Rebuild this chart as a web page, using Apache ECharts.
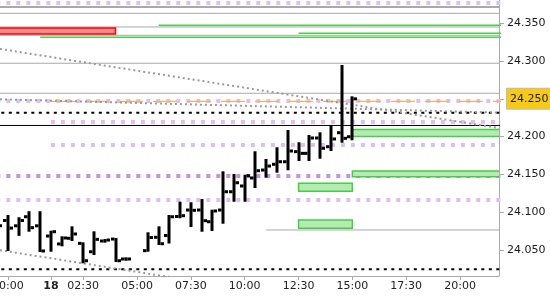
<!DOCTYPE html>
<html><head><meta charset="utf-8">
<script src="https://cdn.jsdelivr.net/npm/echarts@6/dist/echarts.min.js"></script>
<style>html,body{margin:0;padding:0;background:#fff}#c{width:550px;height:300px}</style>
</head><body><div id="c"></div>
<script>
// ---- data ----
const barSlot = [0,1,2,3,4,5,6,7,8,9,10,11,12,14,15,16,17,18,19,20,21,22,23,24,25,26,27,28,29,30,31,32,33];
const open  = [24.087,24.089,24.082,24.094,24.082,24.0685,24.058,24.0655,24.0588,24.0477,24.0619,24.0645,24.0381,24.0491,24.0668,24.0692,24.0943,24.1029,24.1029,24.0874,24.1029,24.1271,24.1347,24.1453,24.1558,24.1634,24.1668,24.1801,24.1779,24.1982,24.1867,24.2052,24.1999];
const high  = [24.092,24.095,24.092,24.100,24.100,24.0742,24.0668,24.080,24.0588,24.0734,24.0632,24.0645,24.039,24.0721,24.080,24.095,24.1126,24.1118,24.1161,24.102,24.1528,24.1492,24.1483,24.1793,24.1691,24.1846,24.2075,24.1912,24.2008,24.2044,24.2141,24.2935,24.252];
const low   = [24.074,24.050,24.070,24.0755,24.0487,24.0491,24.0562,24.0632,24.0337,24.0447,24.061,24.0354,24.0371,24.0491,24.0579,24.0599,24.0933,24.0818,24.0755,24.0764,24.0861,24.1152,24.1152,24.1333,24.147,24.1536,24.1568,24.1691,24.1691,24.1721,24.1823,24.1933,24.1965];
const close = [24.082,24.079,24.089,24.0795,24.0487,24.0742,24.0659,24.0712,24.0358,24.0641,24.0632,24.0358,24.0381,24.0665,24.0583,24.094,24.0954,24.1025,24.0888,24.1016,24.1271,24.139,24.1483,24.1549,24.1611,24.1668,24.181,24.1779,24.1982,24.1846,24.1969,24.1978,24.250];

const xTickSlots  = [1,5,8,13,18,23,28,33,38,43];
const xTickLabels = ['00:00','18','02:30','05:00','07:30','10:00','12:30','15:00','17:30','20:00'];
const yTicks = [24.05,24.10,24.15,24.20,24.25,24.30,24.35];
const lastPrice = 24.250;

// horizontal levels: [price, start slot, style]
const levelPrice = [24.3769,24.3716,24.3632,24.3474,24.3451,24.3368,24.3341,24.3315,24.2971,24.2574,24.2472,24.2466,24.2317,24.2194,24.2148,24.1890,24.1479,24.1162,24.0765,24.0245];
const levelStart = [-1,-1,-1,15,-1,28,-1,4,-1,-1,-1,5,-1,5,-1,5,-1,-1,25,-1];
const levelStyle = ['pl','g2','g1','gr','g1','gr','g1','gr','g1','g1','pl','or','bd','pl','bk','pl','pd','pl','g1','bd'];

// zones: [slot from, slot to, top price, bottom price, style]
const zoneFrom = [-1,33,28,28,33];
const zoneTo   = [11,48,33,33,48];
const zoneTop  = [24.3438,24.2094,24.1382,24.0897,24.1545];
const zoneBot  = [24.3358,24.2002,24.1277,24.0787,24.1470];
const zoneKind = [0,1,1,1,1];

// dotted trend lines: [slot1, price1, slot2, price2]
const trendLines = [
  [0.271,24.3160,46.62,24.2114],
  [0.271,24.2494,46.62,24.2318],
  [0.271,24.0497,46.62,23.9454]
];

// ---- styles ----
const FONT = 'DejaVu Sans';
const lineStyles = {
  pl:{color:'#dcc0f2',width:4,type:[4,6]},
  pd:{color:'#c490e0',width:4,type:[4,6]},
  g2:{color:'#a9a9a9',width:2,type:'solid'},
  g1:{color:'#a9a9a9',width:1,type:'solid'},
  gr:{color:'#4ccf4c',width:1.5,type:'solid'},
  or:{color:'#f3b45c',width:1.2,type:[24,10]},
  bd:{color:'#000',width:2,type:[3,4.5]},
  bk:{color:'#000',width:1,type:'solid'}
};
const zoneStyles = [
  {fill:'#ff8c8c',stroke:'#f00'},
  {fill:'#b3ebb3',stroke:'#46cc46'}
];

const series = [];
levelPrice.forEach((p,i)=>{
  series.push({type:'line',silent:true,symbol:'none',z:1,clip:true,
    lineStyle:lineStyles[levelStyle[i]],
    data:[[levelStart[i],p],[48,p]]});
});
trendLines.forEach(t=>{
  series.push({type:'line',silent:true,symbol:'none',z:2,clip:true,
    lineStyle:{color:'#9a9a9a',width:2,type:[2,3]},
    data:[[t[0],t[1]],[t[2],t[3]]]});
});
series.push({type:'custom',z:3,clip:true,silent:true,
  data: zoneFrom.map((f,i)=>[f,zoneTo[i],zoneTop[i],zoneBot[i],zoneKind[i]]),
  encode:{x:[0,1],y:[2,3]},
  renderItem(params,api){
    const a=api.coord([api.value(0),api.value(2)]);
    const b=api.coord([api.value(1),api.value(3)]);
    const st=zoneStyles[api.value(4)];
    return {type:'rect',shape:{x:a[0],y:a[1],width:b[0]-a[0],height:b[1]-a[1]},
      style:{fill:st.fill,stroke:st.stroke,lineWidth:1.5}};
  }
});
series.push({type:'custom',z:5,clip:true,silent:true,
  data: barSlot.map((s,i)=>[s,open[i],high[i],low[i],close[i]]),
  encode:{x:0,y:[1,2,3,4]},
  renderItem(params,api){
    const k=api.value(0);
    const o=api.coord([k,api.value(1)]);
    const h=api.coord([k,api.value(2)]);
    const l=api.coord([k,api.value(3)]);
    const c=api.coord([k,api.value(4)]);
    const x=Math.round(h[0]);
    return {type:'group',children:[
      {type:'rect',shape:{x:x-1.5,y:h[1]-1,width:3,height:Math.max(l[1]-h[1]+2,3)},style:{fill:'#000'}},
      {type:'rect',shape:{x:x-5,y:o[1]-1.5,width:3.5,height:3},style:{fill:'#000'}},
      {type:'rect',shape:{x:x+1.5,y:c[1]-1.5,width:3.5,height:3},style:{fill:'#000'}}
    ]};
  }
});

const chart = echarts.init(document.getElementById('c'),null,{renderer:'canvas'});
chart.setOption({
  animation:false,
  backgroundColor:'#fff',
  grid:{left:0,right:51,top:0,bottom:24,containLabel:false,outerBoundsMode:'none'},
  xAxis:{type:'value',min:0.271,max:46.62,position:'bottom',
    axisLine:{onZero:false,lineStyle:{color:'#aaa',width:1}},
    axisTick:{show:true,length:4,lineStyle:{color:'#aaa'},customValues:xTickSlots},
    axisLabel:{customValues:xTickSlots,margin:5,fontFamily:FONT,fontSize:11,color:'#222',
      formatter:v=>{const i=xTickSlots.indexOf(Math.round(v));const t=i>=0?xTickLabels[i]:'';return t==='18'?'{b|18}':t;},
      rich:{b:{fontWeight:'bold',fontFamily:FONT,fontSize:11,color:'#222'}}},
    splitLine:{show:false}},
  yAxis:{type:'value',position:'right',min:24.0156,max:24.3808,
    axisLine:{show:true,onZero:false,lineStyle:{color:'#aaa',width:1}},
    axisTick:{show:true,length:5,lineStyle:{color:'#aaa'},customValues:yTicks},
    axisLabel:{customValues:yTicks,margin:8,fontFamily:FONT,fontSize:11,color:'#1a1a1a',
      formatter:v=>Math.abs(v-lastPrice)<1e-6?'{hl|'+v.toFixed(3)+'}':v.toFixed(3),
      rich:{hl:{backgroundColor:'#f7cb15',borderColor:'#bdbdbd',borderWidth:1,padding:[5,3,4,3],
        fontFamily:FONT,fontSize:11,color:'#1a1a1a'}}},
    splitLine:{show:false}},
  series
});
</script></body></html>
